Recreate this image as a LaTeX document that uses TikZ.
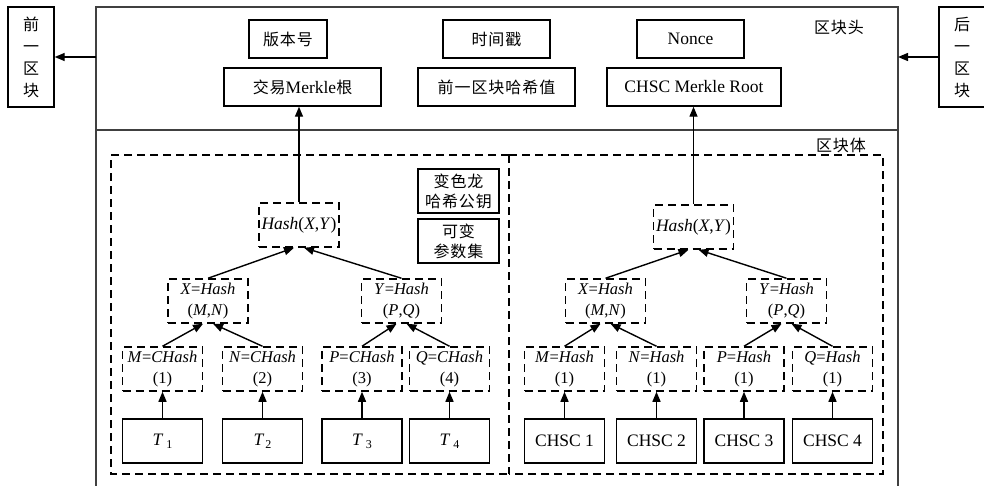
\documentclass[tikz,border=0pt]{standalone}
\usepackage{fontspec}
\setmainfont{Liberation Serif}
\newfontfamily\cjk[LetterSpace=6]{Noto Sans CJK SC}
\usetikzlibrary{arrows.meta}
\begin{document}
\begin{tikzpicture}[x=1pt,y=-1pt,
  every node/.style={font=\fontsize{16.5}{21}\selectfont, inner sep=0pt},
  sbox/.style={draw, line width=1.4pt},
  hbox/.style={sbox, minimum height=38pt, font=\cjk\fontsize{16}{18}\selectfont},
  lat/.style={font=\fontsize{17.5}{18}\selectfont},
  dbox/.style={draw, line width=1.5pt, dash pattern=on 8pt off 5pt, minimum width=80pt, minimum height=44pt, align=center},
  tbox/.style={sbox, minimum width=80pt, minimum height=44pt, font=\fontsize{17.5}{21}\selectfont},
  kbox/.style={draw, line width=1.8pt, minimum width=81pt, minimum height=44pt, align=center, font=\cjk\fontsize{16}{20}\selectfont},
  arr/.style={-{Triangle[length=10pt,width=8pt]}, line width=1.4pt},
  framestyle/.style={line width=2pt, draw=black!75},
  region/.style={line width=1.4pt, dash pattern=on 8pt off 5pt},
  blk/.style={sbox, minimum width=46pt, minimum height=100pt, align=center, font=\cjk\fontsize{16}{22}\selectfont}
]
\useasboundingbox (0,0) rectangle (984,485);
\clip (0,0) rectangle (984,485);

% outer frame
\draw[framestyle] (96,487) -- (96,7) -- (898,7) -- (898,487);
\draw[framestyle] (96,130) -- (898,130);
\coordinate (fl) at (96,57);
\coordinate (fr) at (898,57);

% neighbouring blocks
\node[blk] (prev) at (31,57) {前\\一\\区\\块};
\node[blk] (next) at (962,57) {后\\一\\区\\块};
\draw[arr] (fl) -- (prev.east);
\draw[arr] (next.west) -- (fr);

% labels
\node[font=\cjk\fontsize{16}{18}\selectfont] (hdr) at (839,28) {区块头};
\node[font=\cjk\fontsize{16}{18}\selectfont] (bdy) at (841,145) {区块体};

% header boxes
\node[hbox, minimum width=78pt] (ver) at (288,39) {版本号};
\node[hbox, minimum width=107pt] (ts) at (496.5,39) {时间戳};
\node[hbox, lat, minimum width=107pt] (nonce) at (690.5,39) {Nonce};
\node[hbox, lat, minimum width=157pt] (mroot) at (302.5,87) {{\cjk\fontsize{16}{18}\selectfont 交易}Merkle{\cjk\fontsize{16}{18}\selectfont 根}};
\node[hbox, minimum width=157pt] (prevh) at (496.5,87) {前一区块哈希值};
\node[hbox, lat, minimum width=174pt] (croot) at (694,87) {CHSC Merkle Root};

% body regions
\draw[region] (509,155) -- (111,155) -- (111,474) -- (509,474);
\draw[region] (509,155) -- (883,155) -- (883,474) -- (509,474);
\draw[region] (509,155) -- (509,474);

% left tree
\node[dbox, lat] (hL) at (299,225) {\textit{Hash}(\textit{X},\textit{Y})};
\node[kbox] (k1) at (458.5,191) {变色龙\\哈希公钥};
\node[kbox] (k2) at (458.5,241) {可变\\参数集};
\node[dbox] (xL) at (208,301) {\textit{X}=\textit{Hash}\\(\textit{M},\textit{N})};
\node[dbox] (yL) at (401.5,301) {\textit{Y}=\textit{Hash}\\(\textit{P},\textit{Q})};
\node[dbox] (mL) at (162.5,369) {\textit{M}=\textit{CHash}\\(1)};
\node[dbox] (nL) at (262.5,369) {\textit{N}=\textit{CHash}\\(2)};
\node[dbox] (pL) at (362,369) {\textit{P}=\textit{CHash}\\(3)};
\node[dbox] (qL) at (449.5,369) {\textit{Q}=\textit{CHash}\\(4)};
\node[tbox] (t1) at (162.5,441) {\textit{T}\hspace{3pt}\raisebox{-3pt}{\fontsize{12}{12}\selectfont 1}};
\node[tbox] (t2) at (262.5,441) {\textit{T}\hspace{1pt}\raisebox{-3pt}{\fontsize{12}{12}\selectfont 2}};
\node[tbox] (t3) at (362,441) {\textit{T}\hspace{3pt}\raisebox{-3pt}{\fontsize{12}{12}\selectfont 3}};
\node[tbox] (t4) at (449.5,441) {\textit{T}\hspace{3pt}\raisebox{-3pt}{\fontsize{12}{12}\selectfont 4}};

\draw[arr] (hL.north) -- (hL.north |- mroot.south);
\draw[arr] (xL.north) -- ([xshift=-5pt]hL.south);
\draw[arr] (yL.north) -- ([xshift=5pt]hL.south);
\draw[arr] (mL.north) -- ([xshift=-5pt]xL.south);
\draw[arr] (nL.north) -- ([xshift=5pt]xL.south);
\draw[arr] (pL.north) -- ([xshift=-5pt]yL.south);
\draw[arr] (qL.north) -- ([xshift=5pt]yL.south);
\draw[arr] (t1.north) -- (mL.south);
\draw[arr] (t2.north) -- (nL.south);
\draw[arr] (t3.north) -- (pL.south);
\draw[arr] (t4.north) -- (qL.south);

% right tree
\node[dbox, lat] (hR) at (693.5,227) {\textit{Hash}(\textit{X},\textit{Y})};
\node[dbox] (xR) at (605.5,301) {\textit{X}=\textit{Hash}\\(\textit{M},\textit{N})};
\node[dbox] (yR) at (786.5,301) {\textit{Y}=\textit{Hash}\\(\textit{P},\textit{Q})};
\node[dbox] (mR) at (564.5,369) {\textit{M}=\textit{Hash}\\(1)};
\node[dbox] (nR) at (656.5,369) {\textit{N}=\textit{Hash}\\(1)};
\node[dbox] (pR) at (744,369) {\textit{P}=\textit{Hash}\\(1)};
\node[dbox] (qR) at (832.5,369) {\textit{Q}=\textit{Hash}\\(1)};
\node[tbox] (c1) at (564.5,441) {CHSC 1};
\node[tbox] (c2) at (656.5,441) {CHSC 2};
\node[tbox] (c3) at (744,441) {CHSC 3};
\node[tbox] (c4) at (832.5,441) {CHSC 4};

\draw[arr] (hR.north) -- (hR.north |- croot.south);
\draw[arr] (xR.north) -- ([xshift=-5pt]hR.south);
\draw[arr] (yR.north) -- ([xshift=5pt]hR.south);
\draw[arr] (mR.north) -- ([xshift=-5pt]xR.south);
\draw[arr] (nR.north) -- ([xshift=5pt]xR.south);
\draw[arr] (pR.north) -- ([xshift=-5pt]yR.south);
\draw[arr] (qR.north) -- ([xshift=5pt]yR.south);
\draw[arr] (c1.north) -- (mR.south);
\draw[arr] (c2.north) -- (nR.south);
\draw[arr] (c3.north) -- (pR.south);
\draw[arr] (c4.north) -- (qR.south);
\end{tikzpicture}
\end{document}
